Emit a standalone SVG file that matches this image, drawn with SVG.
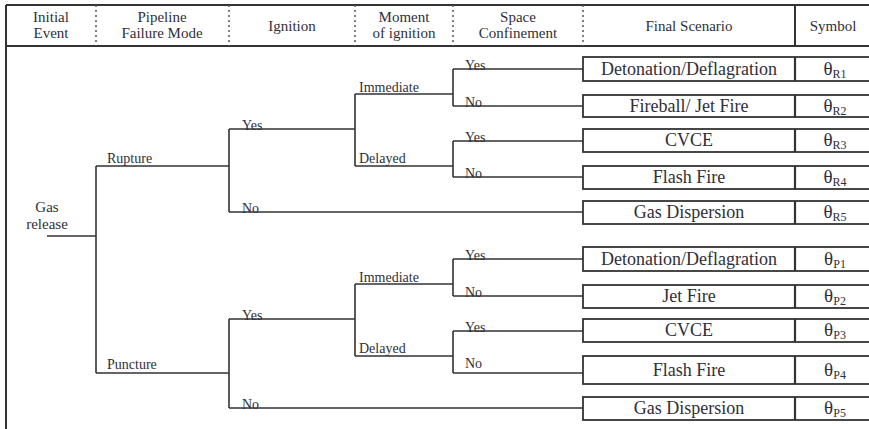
<svg xmlns="http://www.w3.org/2000/svg" width="869" height="429" viewBox="0 0 869 429">
<style>
text{font-family:"Liberation Serif","Times New Roman",serif;fill:#2f2f3a}
.hd{font-size:15px;text-anchor:middle}
.lb{font-size:14px}
.bx{font-size:18px;text-anchor:middle}
.sy{font-size:19px;text-anchor:middle}
.sub{font-size:12px}
.ge{font-size:15px;text-anchor:middle}
.frame{stroke:#333;stroke-width:2;fill:none}
.dot{stroke:#555;stroke-width:1.5;stroke-dasharray:2,3;fill:none}
.con path{stroke:#333;stroke-width:1.6;fill:none}
.box{fill:#fff;stroke:#333;stroke-width:1.8}
.div{stroke:#333;stroke-width:2.2}
</style>
<rect width="869" height="429" fill="#fff"/>
<g id="header">
<path class="frame" d="M6 5H869M6 46H869M6 5V429M795 5V46"/>
<path class="dot" d="M96 5V46M229 5V46M355 5V46M453 5V46M583 5V46"/>
<text class="hd" x="51" y="22">Initial</text>
<text class="hd" x="51" y="38">Event</text>
<text class="hd" x="162" y="22">Pipeline</text>
<text class="hd" x="162" y="38">Failure Mode</text>
<text class="hd" x="292" y="31">Ignition</text>
<text class="hd" x="404" y="22">Moment</text>
<text class="hd" x="404" y="38">of ignition</text>
<text class="hd" x="518" y="22">Space</text>
<text class="hd" x="518" y="38">Confinement</text>
<text class="hd" x="689" y="31">Final Scenario</text>
<text class="hd" x="833" y="31">Symbol</text>
</g>
<g id="connectors" class="con">
<path d="M47 236H96M96 166V373M96 166H229M96 373H229"/>
<path d="M229 129V212M229 129H355M229 212H583M355 94V166M355 94H453M355 166H453"/>
<path d="M453 69V106M453 69H583M453 106H583M453 141V177M453 141H583M453 177H583"/>
<path d="M229 319V408M229 319H355M229 408H583M355 284V356M355 284H453M355 356H453"/>
<path d="M453 259V296M453 259H583M453 296H583M453 331V373M453 331H583M453 373H583"/>
</g>
<g id="labels">
<text class="lb" x="107" y="163">Rupture</text>
<text class="lb" x="107" y="369">Puncture</text>
<text class="lb" x="242" y="130">Yes</text>
<text class="lb" x="242" y="213">No</text>
<text class="lb" x="242" y="320">Yes</text>
<text class="lb" x="242" y="409">No</text>
<text class="lb" x="359" y="92">Immediate</text>
<text class="lb" x="359" y="163">Delayed</text>
<text class="lb" x="359" y="282">Immediate</text>
<text class="lb" x="359" y="353">Delayed</text>
<text class="lb" x="465" y="70">Yes</text>
<text class="lb" x="465" y="107">No</text>
<text class="lb" x="465" y="142">Yes</text>
<text class="lb" x="465" y="178">No</text>
<text class="lb" x="465" y="260">Yes</text>
<text class="lb" x="465" y="297">No</text>
<text class="lb" x="465" y="332">Yes</text>
<text class="lb" x="465" y="368">No</text>
</g>
<g id="gas-release">
<text class="ge" x="47" y="212">Gas</text>
<text class="ge" x="47" y="229">release</text>
</g>
<g id="R1"><rect class="box" x="583" y="57" width="290" height="24"/><path class="div" d="M795 57V81"/><text class="bx" x="689" y="75">Detonation/Deflagration</text><text class="sy" x="835" y="75">θ<tspan class="sub" dy="3">R1</tspan></text></g>
<g id="R2"><rect class="box" x="583" y="95" width="290" height="22"/><path class="div" d="M795 95V117"/><text class="bx" x="689" y="112">Fireball/ Jet Fire</text><text class="sy" x="835" y="112">θ<tspan class="sub" dy="3">R2</tspan></text></g>
<g id="R3"><rect class="box" x="583" y="129" width="290" height="23"/><path class="div" d="M795 129V152"/><text class="bx" x="689" y="146">CVCE</text><text class="sy" x="835" y="146">θ<tspan class="sub" dy="3">R3</tspan></text></g>
<g id="R4"><rect class="box" x="583" y="166" width="290" height="23"/><path class="div" d="M795 166V189"/><text class="bx" x="689" y="183">Flash Fire</text><text class="sy" x="835" y="183">θ<tspan class="sub" dy="3">R4</tspan></text></g>
<g id="R5"><rect class="box" x="583" y="201" width="290" height="23"/><path class="div" d="M795 201V224"/><text class="bx" x="689" y="218">Gas Dispersion</text><text class="sy" x="835" y="218">θ<tspan class="sub" dy="3">R5</tspan></text></g>
<g id="P1"><rect class="box" x="583" y="247" width="290" height="24"/><path class="div" d="M795 247V271"/><text class="bx" x="689" y="265">Detonation/Deflagration</text><text class="sy" x="835" y="265">θ<tspan class="sub" dy="3">P1</tspan></text></g>
<g id="P2"><rect class="box" x="583" y="285" width="290" height="23"/><path class="div" d="M795 285V308"/><text class="bx" x="689" y="302">Jet Fire</text><text class="sy" x="835" y="302">θ<tspan class="sub" dy="3">P2</tspan></text></g>
<g id="P3"><rect class="box" x="583" y="319" width="290" height="23"/><path class="div" d="M795 319V342"/><text class="bx" x="689" y="336">CVCE</text><text class="sy" x="835" y="336">θ<tspan class="sub" dy="3">P3</tspan></text></g>
<g id="P4"><rect class="box" x="583" y="356" width="290" height="28"/><path class="div" d="M795 356V384"/><text class="bx" x="689" y="376">Flash Fire</text><text class="sy" x="835" y="376">θ<tspan class="sub" dy="3">P4</tspan></text></g>
<g id="P5"><rect class="box" x="583" y="397" width="290" height="23"/><path class="div" d="M795 397V420"/><text class="bx" x="689" y="414">Gas Dispersion</text><text class="sy" x="835" y="414">θ<tspan class="sub" dy="3">P5</tspan></text></g>
</svg>
